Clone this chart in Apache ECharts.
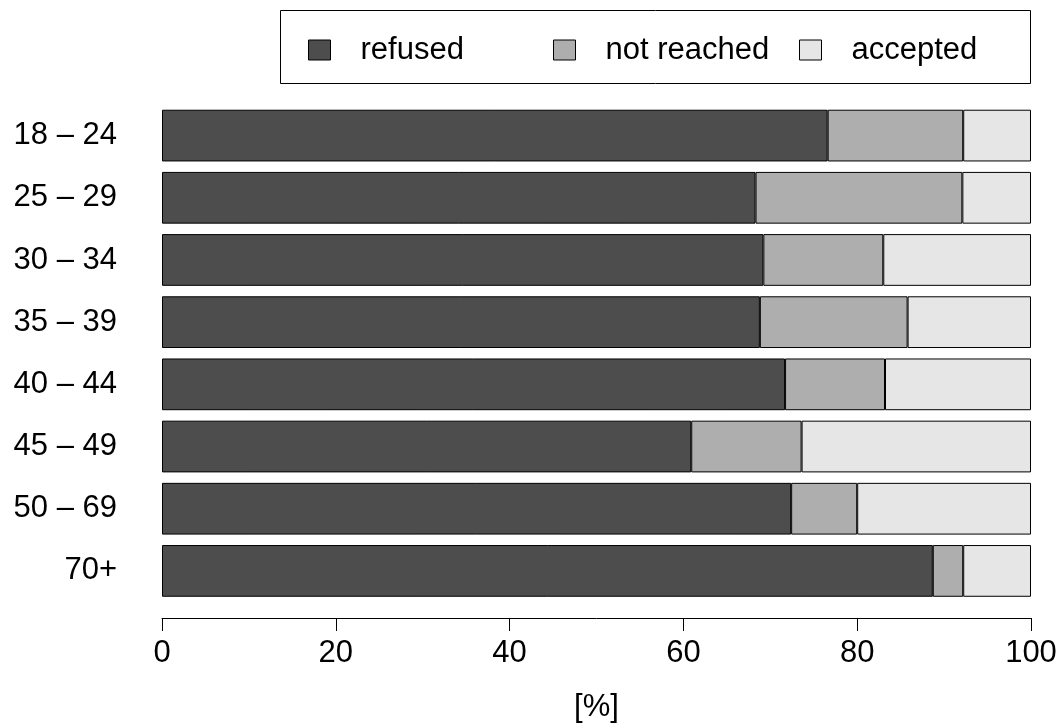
<!DOCTYPE html>
<html>
<head>
<meta charset="utf-8">
<script src="https://cdn.jsdelivr.net/npm/echarts@6/dist/echarts.min.js"></script>
<style>html,body{margin:0;padding:0;background:#fff}#c{width:1063px;height:728px}</style>
</head>
<body>
<div id="c"></div>
<script>
const categories = ['18 – 24','25 – 29','30 – 34','35 – 39','40 – 44','45 – 49','50 – 69','70+'];
const refused    = [76.6, 68.3, 69.2, 68.8, 71.7, 60.9, 72.4, 88.7];
const notReached = [15.6, 23.8, 13.8, 17.0, 11.5, 12.7,  7.6,  3.5];
const accepted   = [ 7.8,  7.9, 17.0, 14.2, 16.8, 26.4, 20.0,  7.8];
const xTicks = [0, 20, 40, 60, 80, 100];
const seriesNames = ['refused', 'not reached', 'accepted'];
const colors = ['#4d4d4d', '#aeaeae', '#e6e6e6'];

const chart = echarts.init(document.getElementById('c'), null, {renderer: 'canvas'});
const font = 'Liberation Sans, Arial, Helvetica, sans-serif';
const FS = 31;
const legendLefts = [308, 553, 799];
const option = {
  animation: false,
  backgroundColor: '#ffffff',
  grid: {left: 162, right: 32, top: 104.5, bottom: 123.5, containLabel: false},
  graphic: [{
    type: 'rect', shape: {x: 280.5, y: 10.5, width: 750, height: 73},
    style: {fill: 'none', stroke: '#000', lineWidth: 1}, z: 0
  }],
  legend: seriesNames.map((n, i) => ({
    data: [n], left: legendLefts[i], top: 34, padding: 0,
    itemWidth: 22, itemHeight: 20,
    icon: 'rect', itemStyle: {borderColor: '#000', borderWidth: 1},
    textStyle: {fontFamily: font, fontSize: FS, lineHeight: 32, color: '#000', padding: [0, 0, 0, 25]},
    selectedMode: false
  })),
  xAxis: {
    type: 'value', min: 0, max: 100, interval: 20, position: 'bottom', offset: 16,
    axisLine: {show: true, lineStyle: {color: '#000', width: 1}},
    axisTick: {show: true, length: 13, lineStyle: {color: '#000'}},
    splitLine: {show: false},
    axisLabel: {fontFamily: font, fontSize: FS, color: '#000', margin: 20,
      formatter: v => xTicks.includes(v) ? String(v) : ''},
    name: '[%]', nameLocation: 'middle', nameGap: 74,
    nameTextStyle: {fontFamily: font, fontSize: FS, color: '#000'}
  },
  yAxis: {
    type: 'category', data: categories, inverse: true,
    axisLine: {show: false}, axisTick: {show: false},
    axisLabel: {fontFamily: font, fontSize: FS, color: '#000', margin: 45}
  },
  series: seriesNames.map((n, i) => ({
    name: n, type: 'bar', stack: 'total', barCategoryGap: '16.8%',
    data: [refused, notReached, accepted][i],
    itemStyle: {color: colors[i], borderColor: '#000', borderWidth: 1}
  }))
};
chart.setOption(option);
</script>
</body>
</html>
